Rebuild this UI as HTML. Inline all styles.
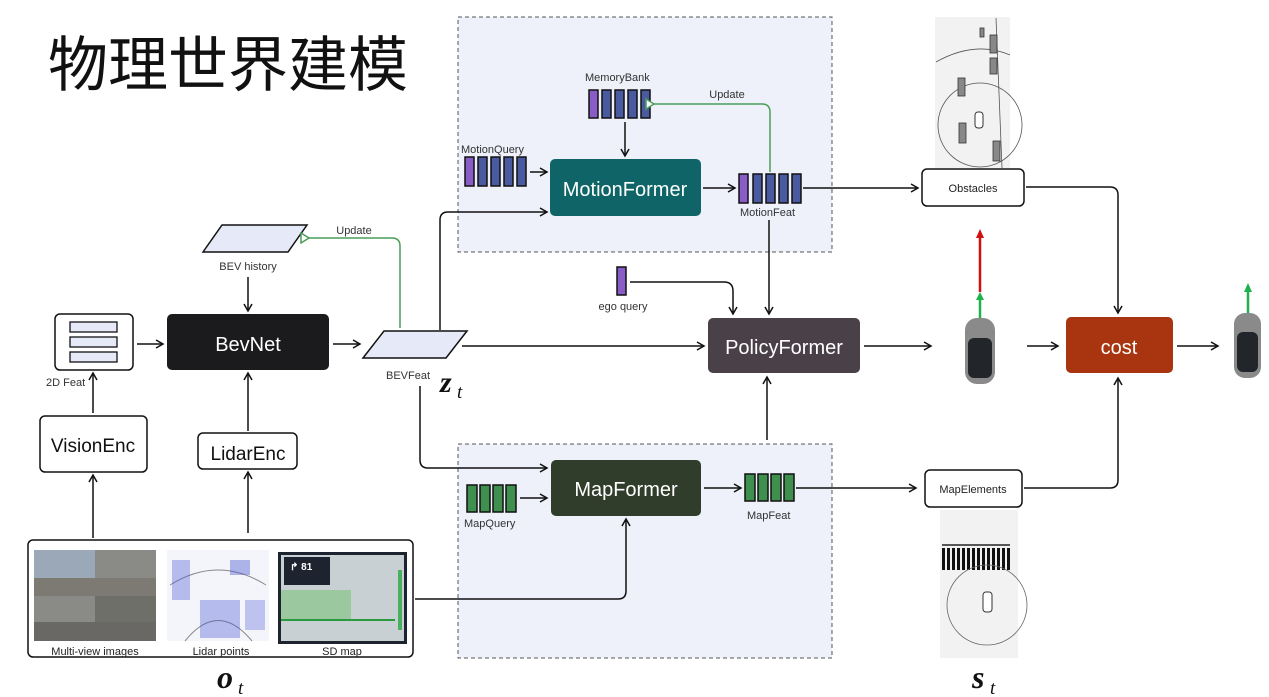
<!DOCTYPE html>
<html><head><meta charset="utf-8"><style>
html,body{margin:0;padding:0;background:#fff;}
svg{display:block;font-family:"Liberation Sans","Noto Sans CJK SC",sans-serif;}
</style></head><body>
<svg width="1269" height="697" viewBox="0 0 1269 697" xmlns="http://www.w3.org/2000/svg">
<defs>
<marker id="a" markerWidth="10" markerHeight="10" refX="8" refY="5" orient="auto" markerUnits="userSpaceOnUse"><path d="M1,1 L8,5 L1,9" fill="none" stroke="#111" stroke-width="1.5"/></marker>
<marker id="g" markerWidth="12" markerHeight="12" refX="2" refY="6" orient="auto" markerUnits="userSpaceOnUse"><path d="M10,1 L2,6 L10,11 Z" fill="#fff" stroke="#4a9e5a" stroke-width="1.5"/></marker>
</defs>
<rect width="1269" height="697" fill="#fff"/>
<text x="48" y="86" font-size="60" fill="#111" font-family="Noto Sans CJK SC,sans-serif">物理世界建模</text>

<rect x="458" y="17" width="374" height="235" fill="#eef1fa" stroke="#555" stroke-dasharray="4,3"/>
<rect x="458" y="444" width="374" height="214" fill="#eef1fa" stroke="#555" stroke-dasharray="4,3"/>

<rect x="55" y="314" width="78" height="56" rx="5" fill="#fff" stroke="#111" stroke-width="1.5"/>
<rect x="70" y="322" width="47" height="10" fill="#e6eaf8" stroke="#111" stroke-width="1.3"/>
<rect x="70" y="337" width="47" height="10" fill="#e6eaf8" stroke="#111" stroke-width="1.3"/>
<rect x="70" y="352" width="47" height="10" fill="#e6eaf8" stroke="#111" stroke-width="1.3"/>
<text x="46" y="386" font-size="11" fill="#333">2D Feat</text>

<rect x="167" y="314" width="162" height="56" rx="5" fill="#1b1b1d"/>
<text x="248" y="351" font-size="20" fill="#fff" text-anchor="middle">BevNet</text>

<polygon points="203,252 222,225 307,225 288,252" fill="#e6eaf8" stroke="#111" stroke-width="1.5"/>
<text x="248" y="270" font-size="11" fill="#333" text-anchor="middle">BEV history</text>
<polygon points="363,358 384,331 467,331 446,358" fill="#e6eaf8" stroke="#111" stroke-width="1.5"/>
<text x="408" y="379" font-size="11" fill="#333" text-anchor="middle">BEVFeat</text>
<text x="440" y="392" font-size="30" font-weight="bold" font-style="italic" font-family="Liberation Serif,serif" fill="#111">z</text>
<text x="457" y="398" font-size="19" font-style="italic" font-family="Liberation Serif,serif" fill="#111">t</text>

<path d="M400,328 V246 Q400,238 392,238 H309" fill="none" stroke="#4a9e5a" stroke-width="1.5" marker-end="url(#g)"/>
<text x="354" y="234" font-size="11" fill="#333" text-anchor="middle">Update</text>

<rect x="40" y="416" width="107" height="56" rx="5" fill="#fff" stroke="#111" stroke-width="1.5"/>
<text x="93" y="452" font-size="19" fill="#111" text-anchor="middle">VisionEnc</text>
<rect x="198" y="433" width="99" height="36" rx="5" fill="#fff" stroke="#111" stroke-width="1.5"/>
<text x="248" y="460" font-size="19" fill="#111" text-anchor="middle">LidarEnc</text>

<rect x="28" y="540" width="385" height="117" rx="5" fill="#fff" stroke="#111" stroke-width="1.5"/>
<rect x="34" y="550" width="122" height="91" fill="#8a8a86"/>
<rect x="34" y="550" width="61" height="45" fill="#9aa8b8"/><rect x="95" y="596" width="61" height="45" fill="#6f6f6a"/>
<rect x="34" y="578" width="122" height="18" fill="#7c7a72"/><rect x="34" y="622" width="122" height="19" fill="#6a6864"/>
<rect x="167" y="550" width="102" height="91" fill="#f4f5fb"/>
<path d="M170,585 Q218,555 266,585 M185,641 Q218,600 252,641" fill="none" stroke="#888"/>
<g fill="#4050d0"><rect x="172" y="560" width="18" height="40" opacity="0.35"/><rect x="230" y="560" width="20" height="15" opacity="0.4"/><rect x="200" y="600" width="40" height="38" opacity="0.35"/><rect x="245" y="600" width="20" height="30" opacity="0.3"/></g>
<rect x="278" y="552" width="129" height="92" fill="#1d2430"/>
<rect x="281" y="555" width="123" height="86" fill="#c8d0d4"/>
<rect x="281" y="590" width="70" height="30" fill="#9cc8a0"/>
<rect x="284" y="557" width="46" height="28" fill="#1d2430"/>
<text x="290" y="570" font-size="10" fill="#fff" font-weight="bold">↱ 81</text>
<rect x="398" y="570" width="4" height="60" fill="#4ab060"/>
<line x1="281" y1="620" x2="395" y2="620" stroke="#2a9a40" stroke-width="2"/>
<text x="95" y="655" font-size="11" fill="#222" text-anchor="middle">Multi-view images</text>
<text x="221" y="655" font-size="11" fill="#222" text-anchor="middle">Lidar points</text>
<text x="342" y="655" font-size="11" fill="#222" text-anchor="middle">SD map</text>
<text x="217" y="688" font-size="32" font-weight="bold" font-style="italic" font-family="Liberation Serif,serif" fill="#111">o</text>
<text x="238" y="694" font-size="19" font-style="italic" font-family="Liberation Serif,serif" fill="#111">t</text>

<g stroke="#111" stroke-width="1.5" fill="none">
<line x1="93" y1="538" x2="93" y2="475" marker-end="url(#a)"/>
<line x1="93" y1="413" x2="93" y2="373" marker-end="url(#a)"/>
<line x1="248" y1="533" x2="248" y2="472" marker-end="url(#a)"/>
<line x1="248" y1="431" x2="248" y2="373" marker-end="url(#a)"/>
<line x1="248" y1="277" x2="248" y2="311" marker-end="url(#a)"/>
<line x1="137" y1="344" x2="163" y2="344" marker-end="url(#a)"/>
<line x1="333" y1="344" x2="360" y2="344" marker-end="url(#a)"/>
<path d="M440,330 V220 Q440,212 448,212 H547" marker-end="url(#a)"/>
<path d="M420,386 V460 Q420,468 428,468 H547" marker-end="url(#a)"/>
<line x1="462" y1="346" x2="704" y2="346" marker-end="url(#a)"/>
<path d="M415,599 H618 Q626,599 626,591 V519" marker-end="url(#a)"/>
</g>

<text x="461" y="153" font-size="11" fill="#333">MotionQuery</text>
<g stroke="#111" stroke-width="1.5">
<rect x="465" y="157" width="9" height="29" fill="#8a5cc8"/><rect x="478" y="157" width="9" height="29" fill="#4a5aa0"/><rect x="491" y="157" width="9" height="29" fill="#4a5aa0"/><rect x="504" y="157" width="9" height="29" fill="#4a5aa0"/><rect x="517" y="157" width="9" height="29" fill="#4a5aa0"/>
<rect x="589" y="90" width="9" height="28" fill="#8a5cc8"/><rect x="602" y="90" width="9" height="28" fill="#4a5aa0"/><rect x="615" y="90" width="9" height="28" fill="#4a5aa0"/><rect x="628" y="90" width="9" height="28" fill="#4a5aa0"/><rect x="641" y="90" width="9" height="28" fill="#4a5aa0"/>
<rect x="739" y="174" width="9" height="29" fill="#8a5cc8"/><rect x="753" y="174" width="9" height="29" fill="#4a5aa0"/><rect x="766" y="174" width="9" height="29" fill="#4a5aa0"/><rect x="779" y="174" width="9" height="29" fill="#4a5aa0"/><rect x="792" y="174" width="9" height="29" fill="#4a5aa0"/>
<rect x="617" y="267" width="9" height="28" fill="#8a5cc8"/>
<rect x="467" y="485" width="10" height="27" fill="#3f8f4f"/><rect x="480" y="485" width="10" height="27" fill="#3f8f4f"/><rect x="493" y="485" width="10" height="27" fill="#3f8f4f"/><rect x="506" y="485" width="10" height="27" fill="#3f8f4f"/>
<rect x="745" y="474" width="10" height="27" fill="#3f8f4f"/><rect x="758" y="474" width="10" height="27" fill="#3f8f4f"/><rect x="771" y="474" width="10" height="27" fill="#3f8f4f"/><rect x="784" y="474" width="10" height="27" fill="#3f8f4f"/>
</g>
<text x="585" y="81" font-size="11" fill="#333">MemoryBank</text>
<text x="740" y="216" font-size="11" fill="#333">MotionFeat</text>
<text x="623" y="310" font-size="11" fill="#333" text-anchor="middle">ego query</text>
<text x="464" y="527" font-size="11" fill="#333">MapQuery</text>
<text x="747" y="519" font-size="11" fill="#333">MapFeat</text>

<rect x="550" y="159" width="151" height="57" rx="5" fill="#0e6466"/>
<text x="625" y="196" font-size="20" fill="#fff" text-anchor="middle">MotionFormer</text>
<rect x="551" y="460" width="150" height="56" rx="5" fill="#2f3d2a"/>
<text x="626" y="496" font-size="20" fill="#fff" text-anchor="middle">MapFormer</text>
<rect x="708" y="318" width="152" height="55" rx="5" fill="#4a4048"/>
<text x="784" y="354" font-size="20" fill="#fff" text-anchor="middle">PolicyFormer</text>
<rect x="1066" y="317" width="107" height="56" rx="5" fill="#a8350f"/>
<text x="1119" y="354" font-size="20" fill="#fff" text-anchor="middle">cost</text>

<rect x="922" y="169" width="102" height="37" rx="5" fill="#fff" stroke="#111" stroke-width="1.5"/>
<text x="973" y="192" font-size="11" fill="#222" text-anchor="middle">Obstacles</text>
<rect x="925" y="470" width="97" height="37" rx="5" fill="#fff" stroke="#111" stroke-width="1.5"/>
<text x="973" y="493" font-size="11" fill="#222" text-anchor="middle">MapElements</text>

<path d="M770,172 V112 Q770,104 762,104 H654" fill="none" stroke="#4a9e5a" stroke-width="1.5" marker-end="url(#g)"/>
<text x="727" y="98" font-size="11" fill="#333" text-anchor="middle">Update</text>

<g stroke="#111" stroke-width="1.5" fill="none">
<line x1="530" y1="172" x2="547" y2="172" marker-end="url(#a)"/>
<line x1="625" y1="122" x2="625" y2="156" marker-end="url(#a)"/>
<line x1="703" y1="188" x2="735" y2="188" marker-end="url(#a)"/>
<line x1="803" y1="188" x2="918" y2="188" marker-end="url(#a)"/>
<line x1="769" y1="220" x2="769" y2="314" marker-end="url(#a)"/>
<path d="M630,282 H724 Q733,282 733,291 V314" marker-end="url(#a)"/>
<line x1="520" y1="498" x2="547" y2="498" marker-end="url(#a)"/>
<line x1="704" y1="488" x2="741" y2="488" marker-end="url(#a)"/>
<line x1="796" y1="488" x2="916" y2="488" marker-end="url(#a)"/>
<line x1="767" y1="440" x2="767" y2="377" marker-end="url(#a)"/>
<line x1="864" y1="346" x2="931" y2="346" marker-end="url(#a)"/>
<line x1="1027" y1="346" x2="1058" y2="346" marker-end="url(#a)"/>
<line x1="1177" y1="346" x2="1218" y2="346" marker-end="url(#a)"/>
<path d="M1026,187 H1110 Q1118,187 1118,195 V313" marker-end="url(#a)"/>
<path d="M1024,488 H1110 Q1118,488 1118,480 V378" marker-end="url(#a)"/>
</g>

<g>
<rect x="965" y="318" width="30" height="66" rx="12" fill="#8a8a8a"/>
<rect x="968" y="338" width="24" height="40" rx="6" fill="#22262b"/>
<line x1="980" y1="318" x2="980" y2="298" stroke="#1db34a" stroke-width="2.5"/>
<path d="M976,300 L980,292 L984,300 Z" fill="#1db34a"/>
<line x1="980" y1="292" x2="980" y2="236" stroke="#d01010" stroke-width="2.5"/>
<path d="M976,238 L980,229 L984,238 Z" fill="#d01010"/>
<rect x="1234" y="313" width="27" height="65" rx="11" fill="#8a8a8a"/>
<rect x="1237" y="332" width="21" height="40" rx="6" fill="#22262b"/>
<line x1="1248" y1="313" x2="1248" y2="290" stroke="#1db34a" stroke-width="2.5"/>
<path d="M1244,292 L1248,283 L1252,292 Z" fill="#1db34a"/>
</g>

<rect x="935" y="17" width="75" height="151" fill="#f2f2f2"/>
<g fill="none" stroke="#555" stroke-width="0.8">
<path d="M936,62 Q975,40 1010,55"/><circle cx="980" cy="125" r="42"/>
<line x1="996" y1="18" x2="1002" y2="168"/>
</g>
<g fill="#888" stroke="#333" stroke-width="0.8">
<rect x="990" y="35" width="7" height="18"/><rect x="990" y="58" width="7" height="16"/><rect x="958" y="78" width="7" height="18"/><rect x="959" y="123" width="7" height="20"/><rect x="993" y="141" width="7" height="20"/><rect x="980" y="28" width="4" height="9"/>
</g>
<rect x="975" y="112" width="8" height="16" rx="3" fill="#fff" stroke="#333"/>
<rect x="940" y="510" width="78" height="148" fill="#f2f2f2"/>
<g stroke="#222" stroke-width="2"><line x1="942" y1="545" x2="1010" y2="545" stroke-width="1.5"/></g>
<g fill="#111"><rect x="942" y="548" width="68" height="22"/></g>
<g fill="#f2f2f2"><rect x="945" y="548" width="2" height="22"/><rect x="950" y="548" width="2" height="22"/><rect x="955" y="548" width="2" height="22"/><rect x="960" y="548" width="2" height="22"/><rect x="965" y="548" width="2" height="22"/><rect x="970" y="548" width="2" height="22"/><rect x="975" y="548" width="2" height="22"/><rect x="980" y="548" width="2" height="22"/><rect x="985" y="548" width="2" height="22"/><rect x="990" y="548" width="2" height="22"/><rect x="995" y="548" width="2" height="22"/><rect x="1000" y="548" width="2" height="22"/><rect x="1005" y="548" width="2" height="22"/></g>
<circle cx="987" cy="605" r="40" fill="none" stroke="#666" stroke-width="0.8"/>
<rect x="983" y="592" width="9" height="20" rx="3" fill="#fff" stroke="#333"/>
<text x="972" y="688" font-size="32" font-weight="bold" font-style="italic" font-family="Liberation Serif,serif" fill="#111">s</text>
<text x="990" y="694" font-size="19" font-style="italic" font-family="Liberation Serif,serif" fill="#111">t</text>
</svg>
</body></html>
